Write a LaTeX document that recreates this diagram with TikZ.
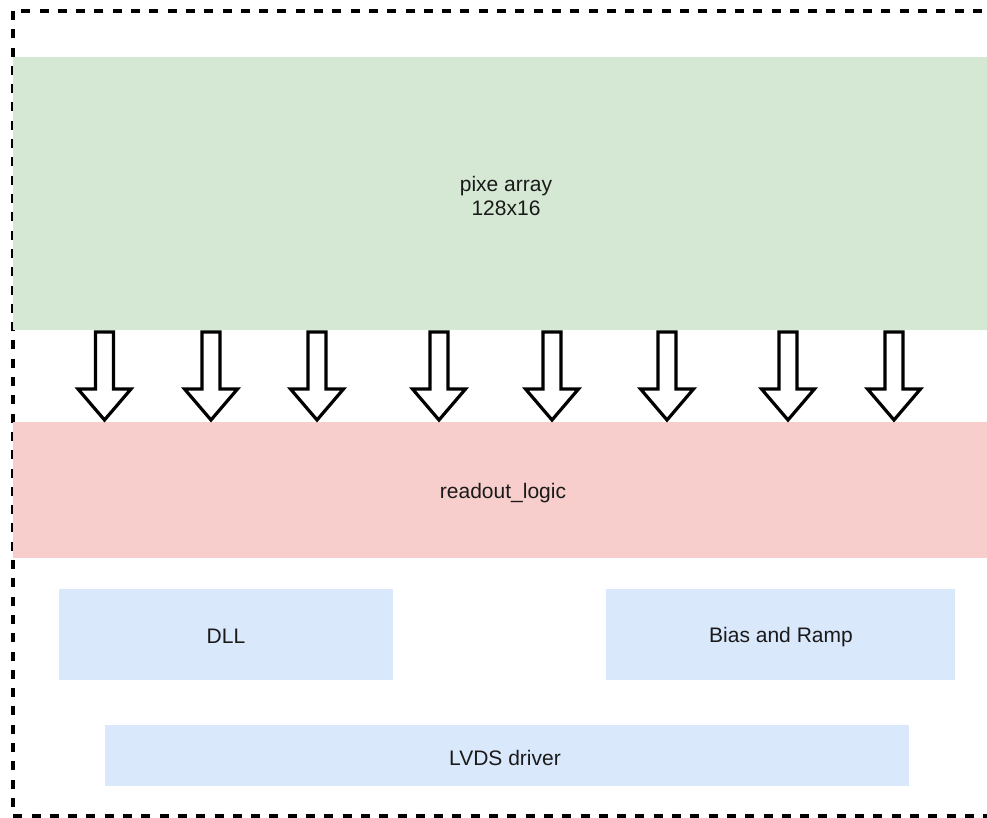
\documentclass[tikz,border=0pt]{standalone}
\usepackage{fontspec}
\setmainfont{Liberation Sans}
\definecolor{greenfill}{HTML}{D5E8D4}
\definecolor{redfill}{HTML}{F8CECC}
\definecolor{bluefill}{HTML}{DAE8FC}
\definecolor{txt}{HTML}{1A1A1A}
\begin{document}
\begin{tikzpicture}[x=1pt,y=-1pt,
  blockbox/.style={draw=none, inner sep=0pt, align=center, text=txt,
    font=\fontsize{21}{24.5}\selectfont},
  blockarrow/.style={draw=black, fill=white, line width=3.2pt, line join=miter},
  outerframe/.style={draw=black, line width=3.4pt, dash pattern=on 9pt off 9.3pt}]
\useasboundingbox (0,0) rectangle (987,818);
\clip (0,0) rectangle (987,818);
% outer dashed frame (right side lies beyond the picture)
\draw[outerframe] (13,11) rectangle (1010,816);
% main blocks
\node[blockbox, fill=greenfill, minimum width=986pt, minimum height=273pt] (pix) at (506,193.5) {};
\node[blockbox] (pixlabel) at (506,196) {pixe array\\128x16};
\node[blockbox, fill=redfill, minimum width=986pt, minimum height=136pt] (ro) at (506,490) {};
\node[blockbox] (rolabel) at (503,493) {readout\_logic};
\node[blockbox, fill=bluefill, minimum width=334pt, minimum height=91pt] (dll) at (226,634.5) {};
\node[blockbox] (dlllabel) at (226,636) {DLL};
\node[blockbox, fill=bluefill, minimum width=349pt, minimum height=91pt] (bias) at (780.5,634.5) {};
\node[blockbox] (biaslabel) at (781,637) {Bias and Ramp};
\node[blockbox, fill=bluefill, minimum width=804pt, minimum height=61pt] (lvds) at (507,755.5) {};
\node[blockbox] (lvdslabel) at (505,758) {LVDS driver};
% block arrows from pixel array to readout logic
\foreach \cx in {104.5,211,317,439,552,667,788,894}{
  \draw[blockarrow] (\cx-9,332) -- (\cx+9,332) -- (\cx+9,389) -- (\cx+26.5,389)
    -- (\cx,420) -- (\cx-26.5,389) -- (\cx-9,389) -- cycle;
}
\end{tikzpicture}
\end{document}
